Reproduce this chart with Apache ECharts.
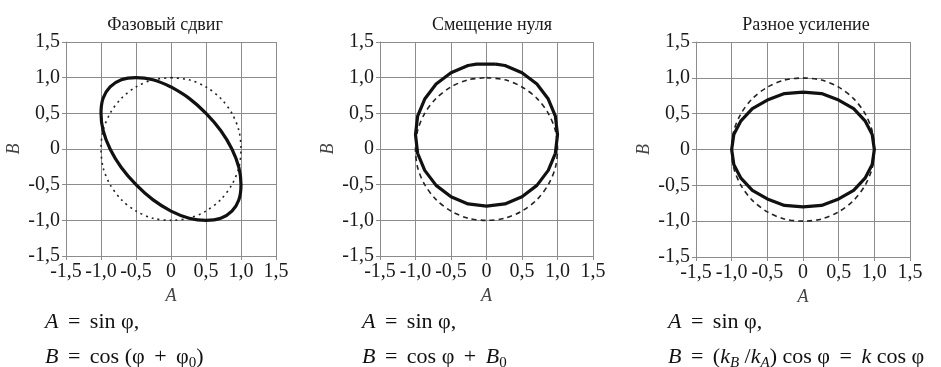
<!DOCTYPE html>
<html><head><meta charset="utf-8">
<script src="https://cdn.jsdelivr.net/npm/echarts@6/dist/echarts.min.js"></script>
<style>html,body{margin:0;padding:0;background:#fff}#c{width:941px;height:367px}</style>
</head><body><div id="c"></div>
<script>
// Titles
const titles = ['Фазовый сдвиг', 'Смещение нуля', 'Разное усиление'];
// Axis ticks
const axisMin = -1.5, axisMax = 1.5, axisStep = 0.5;
// Reference unit circle (dashed)
const circleA = [0, 0.26, 0.5, 0.71, 0.87, 0.97, 1, 0.97, 0.87, 0.71, 0.5, 0.26, 0, -0.26, -0.5, -0.71, -0.87, -0.97, -1, -0.97, -0.87, -0.71, -0.5, -0.26, 0];
const circleB = [1, 0.97, 0.87, 0.71, 0.5, 0.26, 0, -0.26, -0.5, -0.71, -0.87, -0.97, -1, -0.97, -0.87, -0.71, -0.5, -0.26, 0, 0.26, 0.5, 0.71, 0.87, 0.97, 1];
// Phase shift curve
const phaseA = [0, 0.26, 0.5, 0.71, 0.87, 0.97, 1, 0.97, 0.87, 0.71, 0.5, 0.26, 0, -0.26, -0.5, -0.71, -0.87, -0.97, -1, -0.97, -0.87, -0.71, -0.5, -0.26, 0];
const phaseB = [0.87, 0.71, 0.5, 0.26, 0, -0.26, -0.5, -0.71, -0.87, -0.97, -1, -0.97, -0.87, -0.71, -0.5, -0.26, 0, 0.26, 0.5, 0.71, 0.87, 0.97, 1, 0.97, 0.87];
// Zero offset curve
const offsetA = [0.13, 0.26, 0.5, 0.71, 0.87, 0.97, 1, 0.97, 0.87, 0.71, 0.5, 0.26, 0, -0.26, -0.5, -0.71, -0.87, -0.97, -1, -0.97, -0.87, -0.71, -0.5, -0.26, -0.14, 0.13];
const offsetB = [1.19, 1.17, 1.07, 0.91, 0.7, 0.46, 0.2, -0.06, -0.3, -0.51, -0.67, -0.77, -0.8, -0.77, -0.67, -0.51, -0.3, -0.06, 0.2, 0.46, 0.7, 0.91, 1.07, 1.17, 1.19, 1.19];
// Different gain curve
const gainA = [0, 0.26, 0.5, 0.71, 0.87, 0.97, 1, 0.97, 0.87, 0.71, 0.5, 0.26, 0, -0.26, -0.5, -0.71, -0.87, -0.97, -1, -0.97, -0.87, -0.71, -0.5, -0.26, 0];
const gainB = [0.8, 0.78, 0.69, 0.57, 0.4, 0.21, 0, -0.21, -0.4, -0.57, -0.69, -0.78, -0.8, -0.78, -0.69, -0.57, -0.4, -0.21, 0, 0.21, 0.4, 0.57, 0.69, 0.78, 0.8];

const zip = (a, b) => a.map((v, i) => [v, b[i]]);
const SERIF = '"Liberation Serif", "DejaVu Serif", serif';
const grids = [
  {left: 66, top: 42, width: 210, height: 214},
  {left: 380, top: 42, width: 213, height: 214},
  {left: 696, top: 42, width: 214, height: 215}
];
const titleX = [160, 487, 801];
const fmt = v => Math.abs(v) < 1e-9 ? '0' : v.toFixed(1).replace('.', ',');
const gridColor = '#8c8c8c';
function mkAxis(i, isX) {
  return {
    type: 'value', gridIndex: i, min: axisMin, max: axisMax, interval: axisStep,
    name: isX ? 'A' : 'B', nameLocation: 'middle', nameGap: isX ? 30 : 43,
    nameTextStyle: {fontFamily: SERIF, fontStyle: 'italic', fontSize: 18, color: '#444'},
    axisLine: {show: true, onZero: false, lineStyle: {color: gridColor, width: 1}},
    axisTick: {show: true, length: 4, lineStyle: {color: gridColor}},
    axisLabel: {formatter: fmt, fontFamily: SERIF, fontSize: 20, color: '#1a1a1a', margin: isX ? 6 : 6, showMinLabel: true, showMaxLabel: true, hideOverlap: false},
    splitLine: {show: true, lineStyle: {color: gridColor, width: 1}}
  };
}
const xAxis = [0,1,2].map(i => mkAxis(i, true));
const yAxis = [0,1,2].map(i => mkAxis(i, false));
const curves = [zip(phaseA, phaseB), zip(offsetA, offsetB), zip(gainA, gainB)];
const series = [];
[0,1,2].forEach(i => {
  series.push({type: 'line', xAxisIndex: i, yAxisIndex: i, data: zip(circleA, circleB), showSymbol: false, smooth: 0.3,
    lineStyle: {color: '#222', width: 1.6, type: i === 0 ? [2, 4] : [5, 4]}, silent: true, z: 2});
  series.push({type: 'line', xAxisIndex: i, yAxisIndex: i, data: curves[i], showSymbol: false, smooth: i === 0 ? 0.35 : false,
    lineStyle: {color: '#111', width: 3.2}, silent: true, z: 3});
});

// formulas
const fs = 22, subFs = 15, opPad = 4;
const formulaX = [45, 362, 668];
const line1Base = 328, line2Base = 363;
const formulas = [
  [[['A','i'],['=','o'],['sin φ,','r']], [['B','i'],['=','o'],['cos (φ','r'],['+','o'],['φ','r'],['0','s'],[')','r']]],
  [[['A','i'],['=','o'],['sin φ,','r']], [['B','i'],['=','o'],['cos φ','r'],['+','o'],['B','i'],['0','s']]],
  [[['A','i'],['=','o'],['sin φ,','r']], [['B','i'],['=','o'],['(','r'],['k','i'],['B','si'],[' /','r'],['k','i'],['A','si'],[') cos φ','r'],['=','o'],['k','i'],[' cos φ','r']]]
];
const ctx = document.createElement('canvas').getContext('2d');
function fontOf(kind) {
  const italic = kind === 'i' || kind === 'si';
  const size = (kind === 's' || kind === 'si') ? subFs : fs;
  return (italic ? 'italic ' : '') + size + 'px ' + SERIF;
}
const graphic = [];
formulas.forEach((lines, fi) => {
  lines.forEach((segs, li) => {
    let x = formulaX[fi];
    const base = li === 0 ? line1Base : line2Base;
    segs.forEach(([t, kind]) => {
      const font = fontOf(kind);
      ctx.font = font;
      const isOp = kind === 'o';
      const txt = isOp ? ' ' + t + ' ' : t;
      if (isOp) x += opPad;
      const w = ctx.measureText(txt).width;
      const sub = kind === 's' || kind === 'si';
      const size = sub ? subFs : fs;
      graphic.push({type: 'text', x: x, y: base + (sub ? 5 : 0) + Math.round(0.22 * size),
        style: {text: txt, font: font, fill: '#111', textAlign: 'left', textVerticalAlign: 'bottom'}, silent: true});
      x += w + (isOp ? opPad : 0);
    });
  });
});

const chart = echarts.init(document.getElementById('c'), null, {renderer: 'canvas'});
chart.setOption({
  animation: false,
  backgroundColor: '#fff',
  title: titles.map((t, i) => ({text: t, left: titleX[i], top: 11, textAlign: 'center',
    textStyle: {fontFamily: SERIF, fontWeight: 'normal', fontSize: 18, color: '#1a1a1a'}})),
  grid: grids,
  xAxis: xAxis,
  yAxis: yAxis,
  series: series,
  graphic: graphic
});
</script></body></html>
